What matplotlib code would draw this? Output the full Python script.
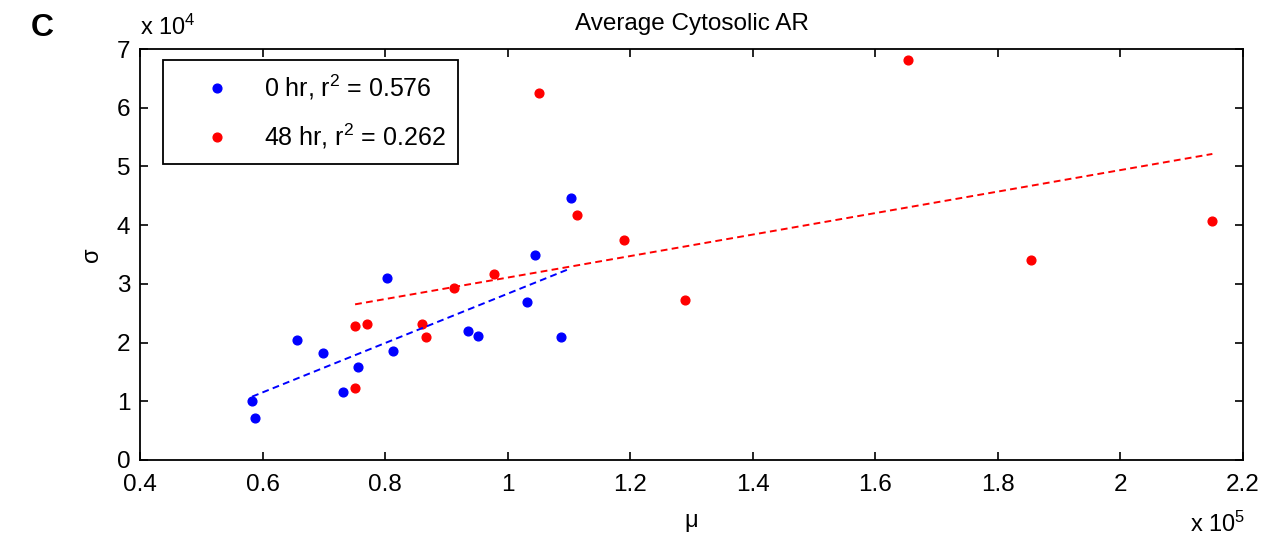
import numpy as np
import matplotlib
matplotlib.use("Agg")
import matplotlib.pyplot as plt

# mu in units of 1e5, sigma in units of 1e4
mu_0hr = [0.583, 0.587, 0.657, 0.699, 0.732, 0.755, 0.803, 0.813, 0.935, 0.951, 1.032, 1.045, 1.087, 1.103]
sd_0hr = [1.01, 0.71, 2.05, 1.82, 1.15, 1.58, 3.10, 1.85, 2.19, 2.12, 2.69, 3.50, 2.09, 4.47]

mu_48hr = [0.751, 0.751, 0.771, 0.861, 0.867, 0.912, 0.977, 1.051, 1.113, 1.190, 1.290, 1.653, 1.854, 2.150]
sd_48hr = [1.22, 2.29, 2.32, 2.32, 2.09, 2.93, 3.16, 6.25, 4.17, 3.74, 2.72, 6.82, 3.41, 4.07]

labels = ["0 hr, r$^{2}$ = 0.576", "48 hr, r$^{2}$ = 0.262"]
xticks = [0.4, 0.6, 0.8, 1, 1.2, 1.4, 1.6, 1.8, 2, 2.2]
xticklabels = ["0.4", "0.6", "0.8", "1", "1.2", "1.4", "1.6", "1.8", "2", "2.2"]
yticks = [0, 1, 2, 3, 4, 5, 6, 7]

plt.rcParams["font.family"] = ["Liberation Sans", "DejaVu Sans"]
plt.rcParams["mathtext.fontset"] = "custom"
plt.rcParams["mathtext.rm"] = "Liberation Sans"
plt.rcParams["mathtext.it"] = "Liberation Sans"

fig = plt.figure(figsize=(12.63, 5.37), dpi=100)
ax = fig.add_axes([140 / 1263, 1 - 460 / 537, (1243 - 140) / 1263, (460 - 49) / 537])

h1, = ax.plot(mu_0hr, sd_0hr, "o", color="#0000ff", ms=6.3, label=labels[0])
h2, = ax.plot(mu_48hr, sd_48hr, "o", color="#ff0000", ms=6.3, label=labels[1])

# linear fits evaluated at the sorted data points
for xs, ys, c in [(mu_0hr, sd_0hr, "#0000ff"), (mu_48hr, sd_48hr, "#ff0000")]:
    p = np.polyfit(xs, ys, 1)
    xs = np.sort(np.array(xs))
    ax.plot(xs, np.polyval(p, xs), color=c, lw=1.4, dashes=(3.5, 2.2))

ax.set_xlim(0.4, 2.2)
ax.set_ylim(0, 7)
ax.set_xticks(xticks)
ax.set_xticklabels(xticklabels)
ax.set_yticks(yticks)
ax.tick_params(direction="in", length=6, width=1.2, labelsize=17.5, top=True, right=True)
ax.tick_params(axis="x", pad=10)
ax.tick_params(axis="y", pad=7)
for s in ax.spines.values():
    s.set_linewidth(1.3)

ax.set_title("Average Cytosolic AR", fontsize=17.5, pad=14)
ax.set_xlabel("μ", fontsize=17, labelpad=10)
ax.set_ylabel("σ", fontsize=17, labelpad=10)

fig.text(140 / 1263, 1 - 27 / 537, "x 10$^{4}$", fontsize=17, ha="left", va="center")
fig.text(1245 / 1263, 1 - 524 / 537, "x 10$^{5}$", fontsize=17, ha="right", va="center")
fig.text(42 / 1263, 1 - 28 / 537, "C", fontsize=23, weight="bold", ha="center", va="center")

leg = ax.legend(handles=[h1, h2], loc="upper left", bbox_to_anchor=(163 / 1263, 1 - 60 / 537),
                bbox_transform=fig.transFigure, borderaxespad=0, fontsize=18, numpoints=1,
                handlelength=3.3, handletextpad=0.25, borderpad=0.5, labelspacing=0.8,
                fancybox=False, framealpha=1)
leg.get_frame().set_edgecolor("black")
leg.get_frame().set_linewidth(1.3)

fig.savefig("out.png", dpi=100)
